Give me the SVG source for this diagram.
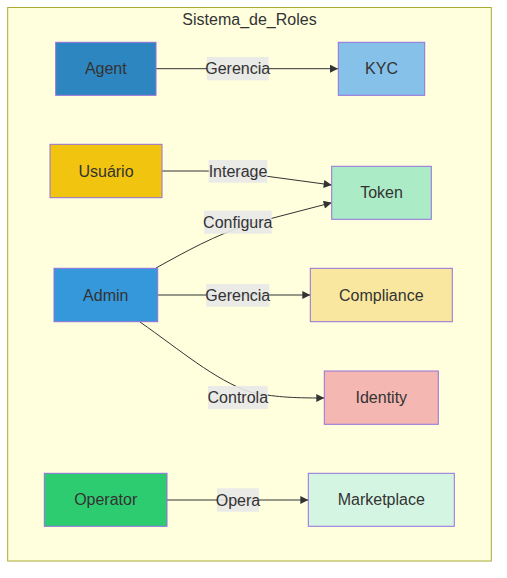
<svg xmlns="http://www.w3.org/2000/svg" width="507" height="578" viewBox="0 0 507 578">
<style>
text{font-family:"Liberation Sans",Arial,sans-serif;font-size:16px;fill:#333;text-anchor:middle}
.node rect{stroke:#9370DB;stroke-width:1}
.edge{fill:none;stroke:#333;stroke-width:1}
.lbl{fill:#e8e8e8;fill-opacity:0.9}
</style>
<defs>
<marker id="arrow" viewBox="0 0 10 10" refX="10" refY="5" markerUnits="userSpaceOnUse" markerWidth="9" markerHeight="8" orient="auto">
<path d="M0,0 L10,5 L0,10 z" fill="#333"/>
</marker>
</defs>
<g id="cluster-Sistema_de_Roles">
<rect x="7.7" y="7.5" width="483.6" height="553.5" fill="#ffffde" stroke="#aaaa33" stroke-width="1"/>
<text x="249.5" y="25">Sistema_de_Roles</text>
</g>
<g id="edges">
<path class="edge" d="M156,68.7 L338,68.7" marker-end="url(#arrow)"/>
<path class="edge" d="M162,171 L205,171 C225,171 245,173 265,176 L331.7,185" marker-end="url(#arrow)"/>
<path class="edge" d="M156,268 C185,252 215,235 250,224 L331.7,202.7" marker-end="url(#arrow)"/>
<path class="edge" d="M157.7,295 L310.3,295" marker-end="url(#arrow)"/>
<path class="edge" d="M140,322 C180,350 215,380 250,392 C275,397 290,398 324.3,398" marker-end="url(#arrow)"/>
<path class="edge" d="M167,500 L308.3,500" marker-end="url(#arrow)"/>
</g>
<g id="edge-labels">
<g><rect class="lbl" x="206.7" y="57" width="62" height="23.3"/><text x="237.7" y="74.3">Gerencia</text></g>
<g><rect class="lbl" x="208.7" y="160" width="58.6" height="22.7"/><text x="238" y="177">Interage</text></g>
<g><rect class="lbl" x="204" y="210.7" width="67.7" height="23"/><text x="237.8" y="227.7">Configura</text></g>
<g><rect class="lbl" x="206.3" y="284" width="63" height="22.7"/><text x="237.8" y="300.8">Gerencia</text></g>
<g><rect class="lbl" x="208" y="386" width="59.7" height="23"/><text x="237.8" y="403">Controla</text></g>
<g><rect class="lbl" x="217" y="488.3" width="42" height="23.4"/><text x="238" y="505.5">Opera</text></g>
</g>
<g id="node-Agent" class="node"><rect x="55.7" y="42.3" width="100.3" height="53" fill="#2e86c1"/><text x="105.8" y="74.3">Agent</text></g>
<g id="node-KYC" class="node"><rect x="338.3" y="42.3" width="86.4" height="53" fill="#85c1e9"/><text x="381.5" y="74.3">KYC</text></g>
<g id="node-Usuario" class="node"><rect x="50" y="144.3" width="112" height="53.4" fill="#f1c40f"/><text x="106" y="176.5">Usuário</text></g>
<g id="node-Token" class="node"><rect x="331.7" y="166.3" width="99.6" height="53" fill="#abebc6"/><text x="381.5" y="198.3">Token</text></g>
<g id="node-Admin" class="node"><rect x="54" y="268.3" width="103.7" height="53.4" fill="#3498db"/><text x="105.8" y="300.5">Admin</text></g>
<g id="node-Compliance" class="node"><rect x="310.3" y="268.3" width="142" height="53.4" fill="#f9e79f"/><text x="381.3" y="300.5">Compliance</text></g>
<g id="node-Identity" class="node"><rect x="324.3" y="371" width="114" height="53.3" fill="#f5b7b1"/><text x="381.3" y="403.2">Identity</text></g>
<g id="node-Operator" class="node"><rect x="44.3" y="473.3" width="122.7" height="53" fill="#2ecc71"/><text x="105.7" y="505.3">Operator</text></g>
<g id="node-Marketplace" class="node"><rect x="308.3" y="473.3" width="146" height="53" fill="#d5f5e3"/><text x="381.3" y="505.3">Marketplace</text></g>
</svg>
